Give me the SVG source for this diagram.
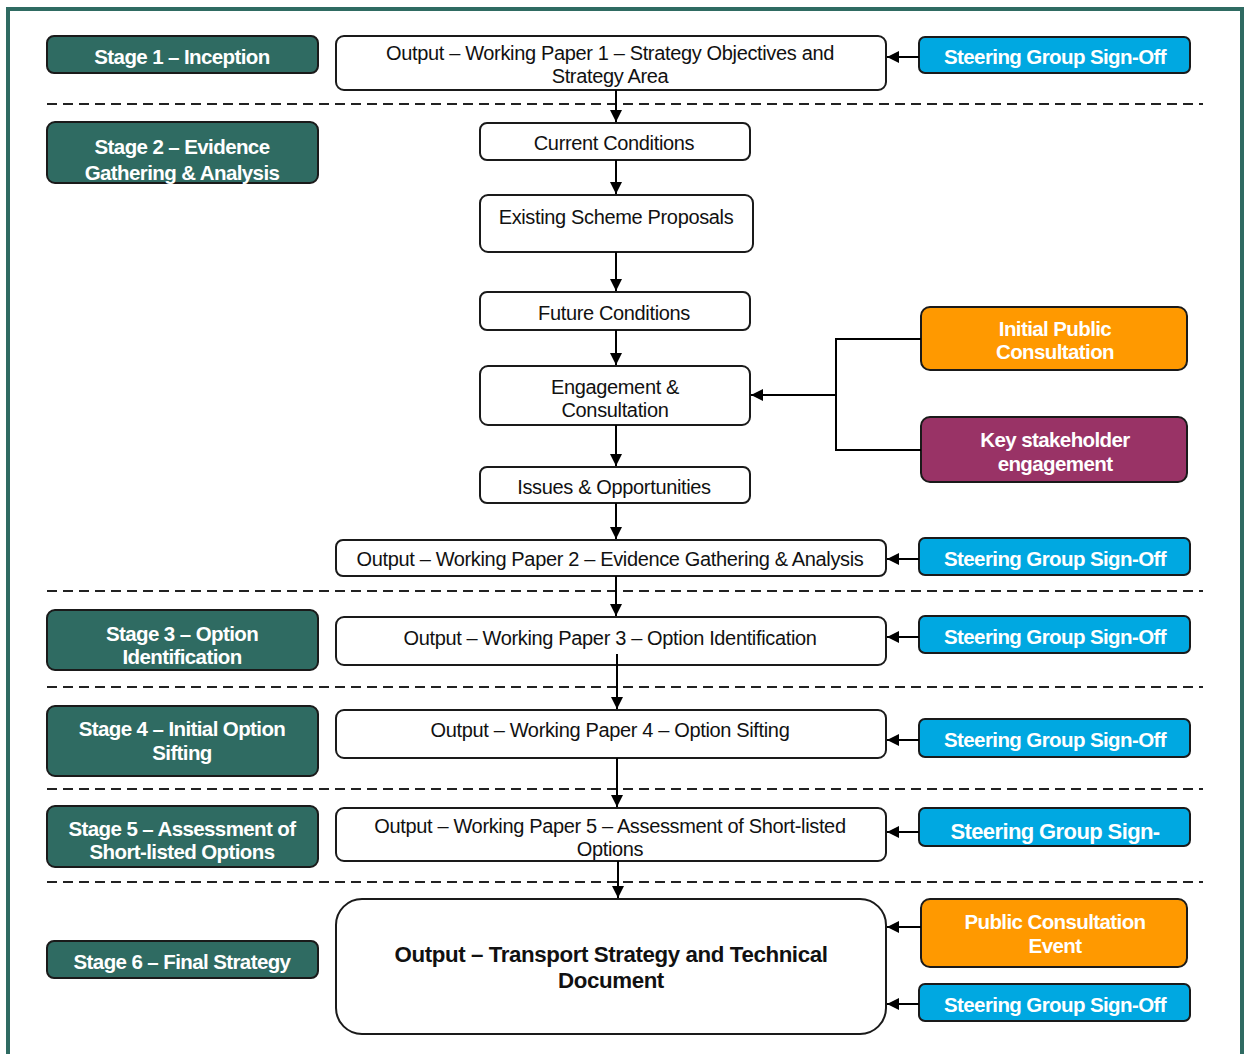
<svg xmlns="http://www.w3.org/2000/svg" width="1246" height="1054" viewBox="0 0 1246 1054">
<defs>
<marker id="ah" viewBox="0 0 10 10" refX="10" refY="5" markerWidth="12" markerHeight="12" markerUnits="userSpaceOnUse" orient="auto">
<path d="M0,0 L10,5 L0,10 z" fill="#000"/>
</marker>
<style>
.stage{fill:#2F6B62;stroke:#1a1a1a;stroke-width:2}
.box{fill:#fff;stroke:#1a1a1a;stroke-width:2}
.sg{fill:#00A8E1;stroke:#1a1a1a;stroke-width:2}
.org{fill:#FF9900;stroke:#1a1a1a;stroke-width:2}
.plum{fill:#993366;stroke:#1a1a1a;stroke-width:2}
.wt{font-family:"Liberation Sans",Arial,sans-serif;font-weight:bold;font-size:20.5px;fill:#fff;text-anchor:middle;letter-spacing:-0.6px}
.bt{font-family:"Liberation Sans",Arial,sans-serif;font-size:20px;fill:#111;text-anchor:middle;letter-spacing:-0.35px}
.big{font-family:"Liberation Sans",Arial,sans-serif;font-weight:bold;font-size:22.3px;fill:#111;text-anchor:middle;letter-spacing:-0.4px}
.dash{stroke:#222;stroke-width:2;stroke-dasharray:10 6;fill:none}
.con{stroke:#000;stroke-width:2;fill:none}
</style>
</defs>
<rect x="0" y="0" width="1246" height="1054" fill="#fff"/>
<rect x="8" y="9" width="1234" height="1060" fill="none" stroke="#2F6B62" stroke-width="4"/>

<g id="dividers">
<line class="dash" x1="47" y1="104" x2="1203" y2="104"/>
<line class="dash" x1="47" y1="591" x2="1203" y2="591"/>
<line class="dash" x1="47" y1="687" x2="1203" y2="687"/>
<line class="dash" x1="47" y1="789" x2="1203" y2="789"/>
<line class="dash" x1="47" y1="882" x2="1203" y2="882"/>
</g>

<g id="stage1"><rect class="stage" x="47" y="36" width="271" height="37" rx="7"/><text class="wt" x="182" y="64">Stage 1 – Inception</text></g>
<g id="stage2"><rect class="stage" x="47" y="122" width="271" height="61" rx="8"/><text class="wt" x="182" y="154">Stage 2 – Evidence</text><text class="wt" x="182" y="180">Gathering &amp; Analysis</text></g>
<g id="stage3"><rect class="stage" x="47" y="610" width="271" height="60" rx="8"/><text class="wt" x="182" y="641">Stage 3 – Option</text><text class="wt" x="182" y="664">Identification</text></g>
<g id="stage4"><rect class="stage" x="47" y="706" width="271" height="70" rx="8"/><text class="wt" x="182" y="736">Stage 4 – Initial Option</text><text class="wt" x="182" y="760">Sifting</text></g>
<g id="stage5"><rect class="stage" x="47" y="806" width="271" height="61" rx="8"/><text class="wt" x="182" y="836">Stage 5 – Assessment of</text><text class="wt" x="182" y="859">Short-listed Options</text></g>
<g id="stage6"><rect class="stage" x="47" y="941" width="271" height="37" rx="7"/><text class="wt" x="182" y="969">Stage 6 – Final Strategy</text></g>

<g id="wp1"><rect class="box" x="336" y="36" width="550" height="54" rx="8"/><text class="bt" x="610" y="60">Output – Working Paper 1 – Strategy Objectives and</text><text class="bt" x="610" y="83">Strategy Area</text></g>
<g id="current"><rect class="box" x="480" y="123" width="270" height="37" rx="7"/><text class="bt" x="614" y="150">Current Conditions</text></g>
<g id="existing"><rect class="box" x="480" y="195" width="273" height="57" rx="8"/><text class="bt" x="616" y="224">Existing Scheme Proposals</text></g>
<g id="future"><rect class="box" x="480" y="292" width="270" height="38" rx="7"/><text class="bt" x="614" y="320">Future Conditions</text></g>
<g id="engage"><rect class="box" x="480" y="366" width="270" height="59" rx="8"/><text class="bt" x="615" y="394">Engagement &amp;</text><text class="bt" x="615" y="417">Consultation</text></g>
<g id="issues"><rect class="box" x="480" y="467" width="270" height="36" rx="7"/><text class="bt" x="614" y="494">Issues &amp; Opportunities</text></g>
<g id="wp2"><rect class="box" x="336" y="540" width="550" height="36" rx="7"/><text class="bt" x="610" y="566">Output – Working Paper 2 – Evidence Gathering &amp; Analysis</text></g>
<g id="wp3"><rect class="box" x="336" y="617" width="550" height="48" rx="8"/><text class="bt" x="610" y="645">Output – Working Paper 3 – Option Identification</text></g>
<g id="wp4"><rect class="box" x="336" y="710" width="550" height="48" rx="8"/><text class="bt" x="610" y="737">Output – Working Paper 4 – Option Sifting</text></g>
<g id="wp5"><rect class="box" x="336" y="808" width="550" height="53" rx="8"/><text class="bt" x="610" y="833">Output – Working Paper 5 – Assessment of Short-listed</text><text class="bt" x="610" y="856">Options</text></g>
<g id="final"><rect class="box" x="336" y="899" width="550" height="135" rx="26"/><text class="big" x="611" y="962">Output – Transport Strategy and Technical</text><text class="big" x="611" y="988">Document</text></g>

<g id="sg1"><rect class="sg" x="919" y="37" width="271" height="36" rx="6"/><text class="wt" x="1055" y="64">Steering Group Sign-Off</text></g>
<g id="ipc"><rect class="org" x="921" y="307" width="266" height="63" rx="9"/><text class="wt" x="1055" y="336">Initial Public</text><text class="wt" x="1055" y="359">Consultation</text></g>
<g id="ksh"><rect class="plum" x="921" y="417" width="266" height="65" rx="9"/><text class="wt" x="1055" y="447">Key stakeholder</text><text class="wt" x="1055" y="471">engagement</text></g>
<g id="sg2"><rect class="sg" x="919" y="538" width="271" height="37" rx="6"/><text class="wt" x="1055" y="566">Steering Group Sign-Off</text></g>
<g id="sg3"><rect class="sg" x="919" y="616" width="271" height="37" rx="6"/><text class="wt" x="1055" y="644">Steering Group Sign-Off</text></g>
<g id="sg4"><rect class="sg" x="919" y="719" width="271" height="38" rx="6"/><text class="wt" x="1055" y="747">Steering Group Sign-Off</text></g>
<g id="sg5"><rect class="sg" x="919" y="808" width="271" height="38" rx="6"/><text class="wt" x="1055" y="839" style="font-size:22px">Steering Group Sign-</text></g>
<g id="pce"><rect class="org" x="921" y="899" width="266" height="68" rx="9"/><text class="wt" x="1055" y="929">Public Consultation</text><text class="wt" x="1055" y="953">Event</text></g>
<g id="sg6"><rect class="sg" x="919" y="984" width="271" height="37" rx="6"/><text class="wt" x="1055" y="1012">Steering Group Sign-Off</text></g>

<g id="connectors">
<line class="con" x1="616" y1="90" x2="616" y2="122" marker-end="url(#ah)"/>
<line class="con" x1="616" y1="160" x2="616" y2="194" marker-end="url(#ah)"/>
<line class="con" x1="616" y1="252" x2="616" y2="291" marker-end="url(#ah)"/>
<line class="con" x1="616" y1="330" x2="616" y2="365" marker-end="url(#ah)"/>
<line class="con" x1="616" y1="425" x2="616" y2="466" marker-end="url(#ah)"/>
<line class="con" x1="616" y1="503" x2="616" y2="539" marker-end="url(#ah)"/>
<line class="con" x1="616" y1="576" x2="616" y2="616" marker-end="url(#ah)"/>
<line class="con" x1="617" y1="654" x2="617" y2="709" marker-end="url(#ah)"/>
<line class="con" x1="617" y1="758" x2="617" y2="807" marker-end="url(#ah)"/>
<line class="con" x1="618" y1="861" x2="618" y2="898" marker-end="url(#ah)"/>
<line class="con" x1="919" y1="57" x2="887" y2="57" marker-end="url(#ah)"/>
<line class="con" x1="919" y1="559" x2="887" y2="559" marker-end="url(#ah)"/>
<line class="con" x1="919" y1="637" x2="887" y2="637" marker-end="url(#ah)"/>
<line class="con" x1="919" y1="740" x2="887" y2="740" marker-end="url(#ah)"/>
<line class="con" x1="919" y1="832" x2="887" y2="832" marker-end="url(#ah)"/>
<line class="con" x1="921" y1="927" x2="887" y2="927" marker-end="url(#ah)"/>
<line class="con" x1="919" y1="1004" x2="887" y2="1004" marker-end="url(#ah)"/>
<polyline class="con" points="921,339 836,339 836,450 921,450"/>
<line class="con" x1="836" y1="395" x2="751" y2="395" marker-end="url(#ah)"/>
</g>
</svg>
